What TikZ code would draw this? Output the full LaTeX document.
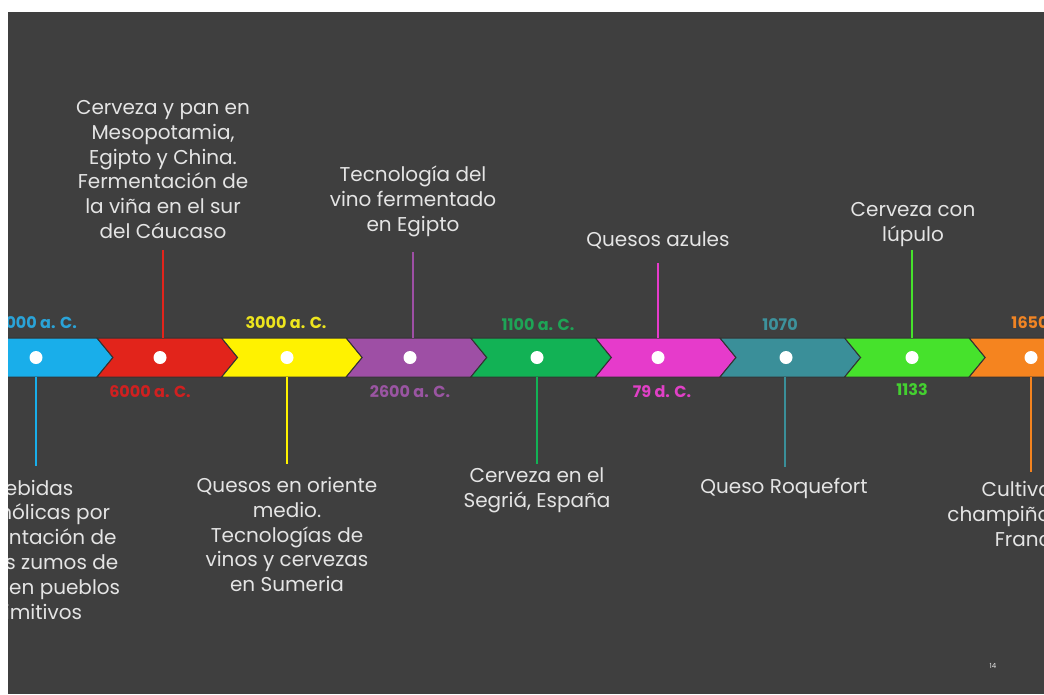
\documentclass[tikz,border=0pt]{standalone}
\usepackage{fontspec}
\setmainfont{Poppins}
\definecolor{bg}{HTML}{3F3F3F}
\definecolor{chevedge}{HTML}{333333}
\definecolor{cBlue}{HTML}{19AEEA}
\definecolor{cRed}{HTML}{E2241B}
\definecolor{cYellow}{HTML}{FFF200}
\definecolor{cPurple}{HTML}{9E4FA5}
\definecolor{cGreen}{HTML}{12B255}
\definecolor{cMag}{HTML}{E63BCB}
\definecolor{cTeal}{HTML}{3A8F99}
\definecolor{cLime}{HTML}{46E22C}
\definecolor{cOrange}{HTML}{F5841F}
\definecolor{lBlue}{HTML}{2AA3D8}
\definecolor{lRed}{HTML}{D02020}
\definecolor{lYellow}{HTML}{EDE51E}
\definecolor{lPurple}{HTML}{9A55A2}
\definecolor{lGreen}{HTML}{1EA456}
\definecolor{lMag}{HTML}{E040C6}
\definecolor{lTeal}{HTML}{3D929C}
\definecolor{lLime}{HTML}{44D030}
\definecolor{lOrange}{HTML}{F08424}
\definecolor{txt}{HTML}{E4E4E4}
\newcommand{\chevshape}[2]{%
  \filldraw[fill=#2, draw=chevedge, line width=1pt]
    (#1,338) -- ++(124.6,0) -- ++(16,19.5) -- ++(-16,19.5)
    -- ++(-124.6,0) -- ++(16,-19.5) -- cycle;}
\begin{document}
\begin{tikzpicture}[x=1pt,y=-1pt,
  dot/.style={circle, fill=white, inner sep=0pt, minimum size=13pt},
  datelbl/.style={font=\fontsize{16}{19}\selectfont\bfseries, inner sep=0pt},
  desc/.style={font=\fontsize{20}{24.8}\selectfont, text=txt, align=center, inner sep=0pt},
  stem/.style={line width=2.5pt}]
\useasboundingbox (0,0) rectangle (1044,694);
\fill[white] (0,0) rectangle (1044,694);
\fill[bg] (8,12) rectangle (1044,694);
\begin{scope}
\clip (8,12) rectangle (1044,694);
% chevrons
\chevshape{-27.6}{cBlue}
\chevshape{97}{cRed}
\chevshape{221.6}{cYellow}
\chevshape{346.2}{cPurple}
\chevshape{470.8}{cGreen}
\chevshape{595.4}{cMag}
\chevshape{720}{cTeal}
\chevshape{844.6}{cLime}
\chevshape{969.2}{cOrange}
% dots
\node[dot] (d1) at (36,357.5) {};
\node[dot] (d2) at (160,357.5) {};
\node[dot] (d3) at (287,357.5) {};
\node[dot] (d4) at (410,357.5) {};
\node[dot] (d5) at (537,357.5) {};
\node[dot] (d6) at (658,357.5) {};
\node[dot] (d7) at (786,357.5) {};
\node[dot] (d8) at (912,357.5) {};
\node[dot] (d9) at (1031,357.5) {};
% stems
\coordinate (s1a) at (36,377);  \coordinate (s1b) at (36,466);
\coordinate (s2a) at (163,338); \coordinate (s2b) at (163,250);
\coordinate (s3a) at (287,377); \coordinate (s3b) at (287,464);
\coordinate (s4a) at (413,338); \coordinate (s4b) at (413,252);
\coordinate (s5a) at (537,377); \coordinate (s5b) at (537,464);
\coordinate (s6a) at (658,338); \coordinate (s6b) at (658,263);
\coordinate (s7a) at (785,377); \coordinate (s7b) at (785,467);
\coordinate (s8a) at (912,338); \coordinate (s8b) at (912,250);
\coordinate (s9a) at (1031,377); \coordinate (s9b) at (1031,472);
\draw[stem, cBlue] (s1a) -- (s1b);
\draw[stem, cRed] (s2a) -- (s2b);
\draw[stem, cYellow] (s3a) -- (s3b);
\draw[stem, cPurple] (s4a) -- (s4b);
\draw[stem, cGreen] (s5a) -- (s5b);
\draw[stem, cMag] (s6a) -- (s6b);
\draw[stem, cTeal] (s7a) -- (s7b);
\draw[stem, cLime] (s8a) -- (s8b);
\draw[stem, cOrange] (s9a) -- (s9b);
% dates
\node[datelbl, text=lBlue] (t1) at (36,323) {8000 a. C.};
\node[datelbl, text=lRed] (t2) at (150,392) {6000 a. C.};
\node[datelbl, text=lYellow] (t3) at (286,323) {3000 a. C.};
\node[datelbl, text=lPurple] (t4) at (410,392) {2600 a. C.};
\node[datelbl, text=lGreen] (t5) at (538,325) {1100 a. C.};
\node[datelbl, text=lMag] (t6) at (662,392) {79 d. C.};
\node[datelbl, text=lTeal] (t7) at (780,325) {1070};
\node[datelbl, text=lLime] (t8) at (912,390) {1133};
\node[datelbl, text=lOrange] (t9) at (1030,323) {1650};
% descriptions
\node[desc] (x1) at (33,552) {Bebidas\\alcohólicas por\\fermentación de\\\hspace*{40pt}los zumos de\\frutas en pueblos\\primitivos};
\node[desc] (x2) at (163,169.5) {Cerveza y pan en\\Mesopotamia,\\Egipto y China.\\Fermentación de\\la viña en el sur\\del Cáucaso};
\node[desc] (x3) at (287,534.5) {Quesos en oriente\\medio.\\Tecnologías de\\vinos y cervezas\\en Sumeria};
\node[desc] (x4) at (413,201.5) {Tecnología del\\vino fermentado\\en Egipto};
\node[desc] (x5) at (537,490) {Cerveza en el\\Segriá, España};
\node[desc] (x6) at (658,240) {Quesos azules};
\node[desc] (x7) at (784,488) {Queso Roquefort};
\node[desc] (x8) at (913,224.5) {Cerveza con\\lúpulo};
\node[desc] (x9) at (1032,514) {Cultivo de\\champiñones en\\Francia};
\end{scope}
\node[font=\fontsize{7}{8}\selectfont, text=txt, inner sep=0pt] (pg) at (993,666) {14};
\end{tikzpicture}
\end{document}
